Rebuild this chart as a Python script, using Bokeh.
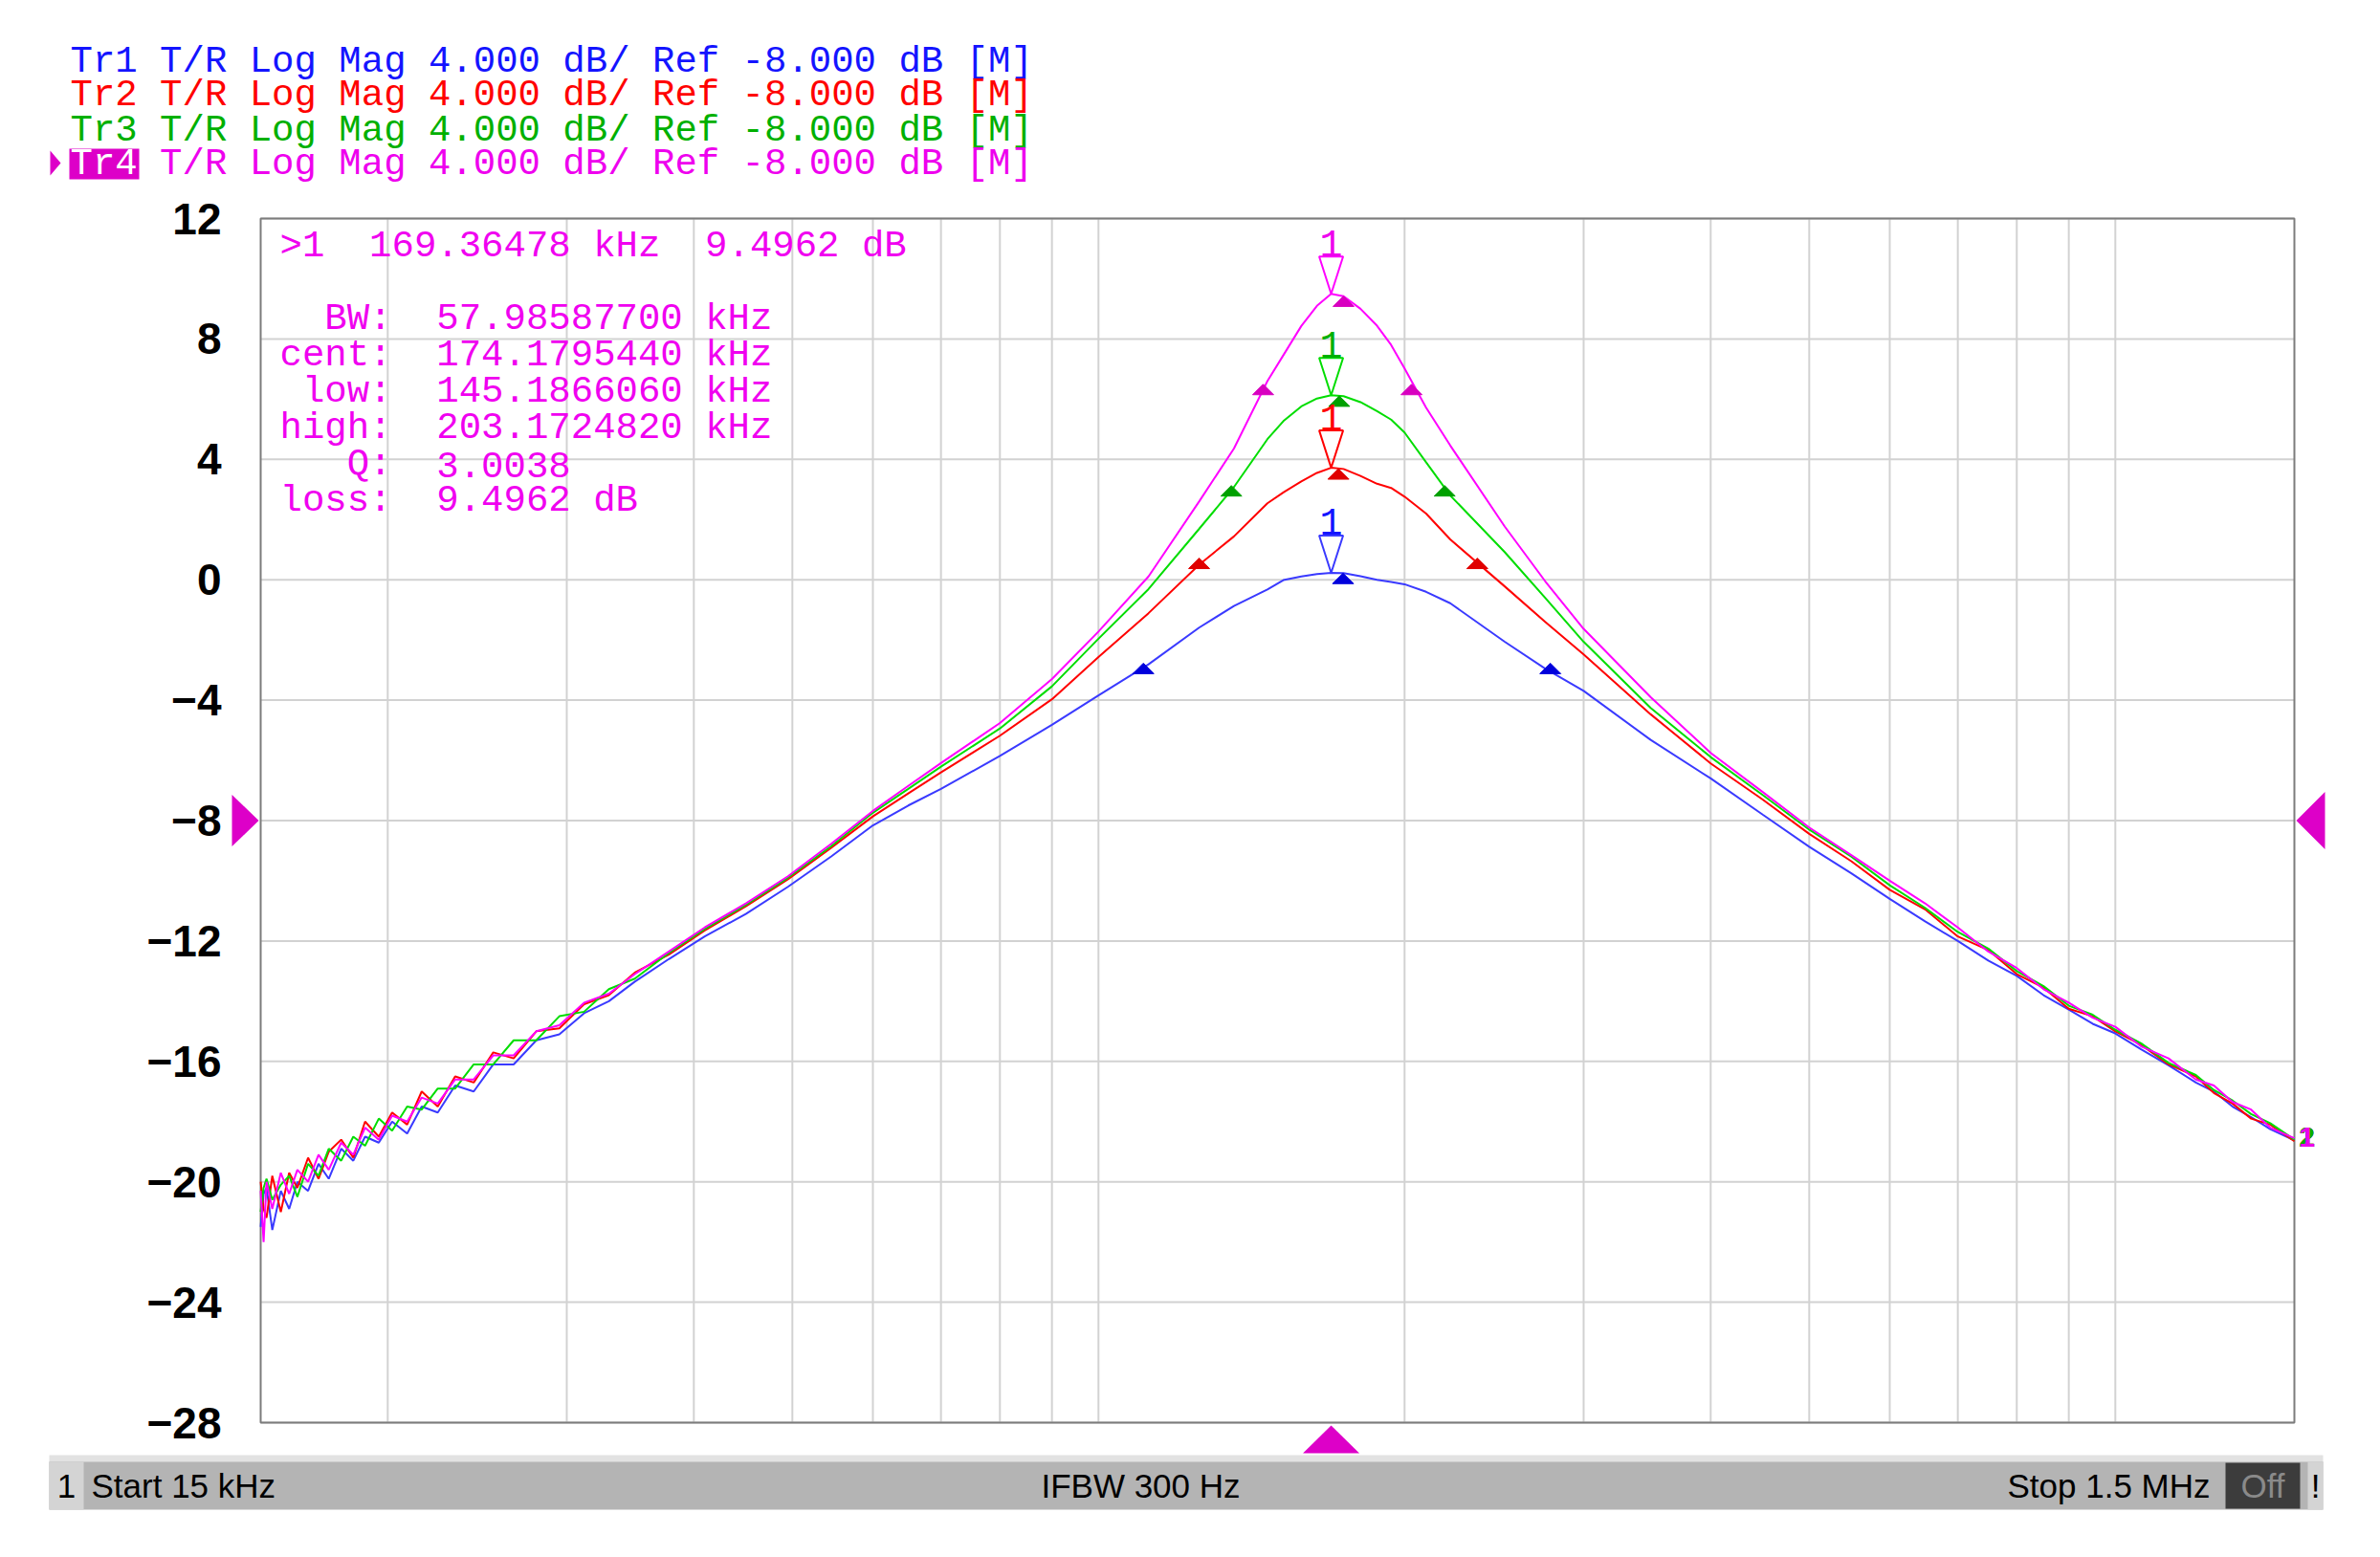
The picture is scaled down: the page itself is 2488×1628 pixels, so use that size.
from bokeh.plotting import figure
from bokeh.models import Range1d, Label, BoxAnnotation, PolyAnnotation, ColumnDataSource
from bokeh.core.properties import value
from bokeh.embed import file_html
from bokeh.resources import INLINE

# ---- data ----
freq_khz = [15.0, 15.1, 15.2, 15.4, 15.7, 16.0, 16.3, 16.7, 17.1, 17.5,
            18.0, 18.5, 19.0, 19.6, 20.2, 20.9, 21.6, 22.4, 23.3, 24.3,
            25.4, 26.6, 28.0, 29.5, 31.2, 33.0, 35.0, 37.8,
            41.0, 45.0, 49.5, 54.6, 60.0, 65.0, 70.0, 80.0, 90.0, 100.0,
            112.0, 125.6, 135.9, 146.6, 152.0, 158.3, 164.0, 169.36, 174.2, 181.0, 187.9, 194.0,
            200.0, 210.0, 221.8, 250.9, 275.0, 300.0, 349.2, 400.0, 450.0, 500.0, 550.0,
            600.0, 650.0, 700.0, 750.0, 800.0, 850.0, 900.0, 950.0, 1000.0, 1060.0,
            1128.0, 1200.0, 1250.0, 1304.0, 1360.0, 1420.0, 1500.0]

tr1_db = [-21.5, -20.4, -20.2, -21.6, -20.3, -20.9, -20.0, -20.3, -19.4, -19.9,
          -18.9, -19.3, -18.5, -18.7, -18.0, -18.4, -17.5, -17.7, -16.8, -17.0,
          -16.1, -16.1, -15.3, -15.1, -14.4, -14.0, -13.35, -12.6,
          -11.85, -11.1, -10.2, -9.19, -8.16, -7.5, -6.95, -5.85, -4.82, -3.84,
          -2.81, -1.59, -0.87, -0.32, -0.01, 0.11, 0.19, 0.23, 0.22, 0.12, 0.0, -0.07,
          -0.15, -0.4, -0.78, -2.06, -2.95, -3.69, -5.32, -6.60, -7.8, -8.87, -9.75,
          -10.6, -11.35, -12.0, -12.65, -13.16, -13.8, -14.28, -14.75, -15.07, -15.6,
          -16.13, -16.7, -17.0, -17.5, -17.85, -18.25, -18.62]

tr2_db = [-20.0, -20.9, -21.2, -19.8, -21.0, -19.7, -20.2, -19.2, -19.9, -19.0,
          -18.6, -19.2, -18.0, -18.5, -17.7, -18.1, -17.0, -17.5, -16.5, -16.7,
          -15.7, -15.9, -15.0, -14.9, -14.1, -13.8, -13.05, -12.45,
          -11.65, -10.85, -9.95, -8.9, -7.86, -7.1, -6.4, -5.18, -3.97, -2.57,
          -1.11, 0.5, 1.44, 2.54, 2.90, 3.27, 3.55, 3.72, 3.68, 3.45, 3.19, 3.05,
          2.76, 2.2, 1.34, -0.22, -1.4, -2.48, -4.47, -6.10, -7.3, -8.44, -9.35,
          -10.3, -10.95, -11.85, -12.3, -13.1, -13.55, -14.25, -14.5, -15.0, -15.45,
          -16.1, -16.5, -17.05, -17.4, -17.9, -18.1, -18.65]

tr3_db = [-21.0, -20.2, -19.9, -20.6, -20.1, -19.8, -20.5, -19.4, -19.8, -18.9,
          -19.3, -18.5, -18.8, -17.9, -18.3, -17.5, -17.6, -16.9, -16.9, -16.1,
          -16.1, -15.3, -15.3, -14.5, -14.35, -13.6, -13.25, -12.4,
          -11.6, -10.8, -9.9, -8.85, -7.74, -6.95, -6.21, -4.94, -3.54, -1.96,
          -0.31, 1.69, 3.08, 4.67, 5.27, 5.76, 6.02, 6.13, 6.10, 5.9, 5.60, 5.32,
          4.89, 3.9, 2.8, 0.92, -0.6, -2.06, -4.26, -5.89, -7.15, -8.30, -9.2,
          -10.15, -10.9, -11.7, -12.25, -13.0, -13.5, -14.15, -14.45, -14.95, -15.4,
          -16.05, -16.45, -16.95, -17.3, -17.75, -18.05, -18.6]

tr4_db = [-20.3, -22.0, -20.0, -20.9, -19.7, -20.4, -19.6, -20.0, -19.1, -19.6,
          -18.7, -19.1, -18.2, -18.6, -17.8, -18.0, -17.2, -17.4, -16.6, -16.6,
          -15.8, -15.8, -15.0, -14.8, -14.05, -13.75, -13.1, -12.35,
          -11.55, -10.75, -9.85, -8.77, -7.68, -6.85, -6.09, -4.76, -3.30, -1.72,
          0.11, 2.60, 4.36, 6.6, 7.46, 8.43, 9.10, 9.50, 9.42, 9.0, 8.44, 7.8,
          7.02, 5.72, 4.46, 1.77, -0.05, -1.63, -3.90, -5.75, -7.05, -8.23, -9.15,
          -10.0, -10.75, -11.55, -12.35, -12.9, -13.6, -14.05, -14.55, -14.85, -15.5,
          -15.9, -16.6, -16.8, -17.35, -17.6, -18.2, -18.55]

# marker 1 and bandwidth search results, per trace (Tr1..Tr4)
marker_khz = 169.36478
peak_db = [0.23, 3.72, 6.13, 9.4962]
bw_low_khz = [110.7, 125.6, 135.1, 145.1866060]
bw_cent_khz = [174.0, 172.2, 172.5, 174.1795440]
bw_high_khz = [278.2, 235.8, 219.0, 203.1724820]
cent_db = [0.22, 3.69, 6.11, 9.43]
bw_db = [-2.77, 0.72, 3.13, 6.4962]
ref_db = -8.0
start_khz, stop_khz = 15.0, 1500.0
db_min, db_max = -28, 12

y_ticks = [-28, -24, -20, -16, -12, -8, -4, 0, 4, 8, 12]
x_grid_khz = [20, 30, 40, 50, 60, 70, 80, 90, 100,
              200, 300, 400, 500, 600, 700, 800, 900, 1000]

header = "T/R Log Mag 4.000 dB/ Ref -8.000 dB [M]"
trace_names = ["Tr1", "Tr2", "Tr3", "Tr4"]
readout_keys = ["BW:", "cent:", "low:", "high:", "Q:", "loss:"]
readout_vals = ["57.98587700 kHz", "174.1795440 kHz", "145.1866060 kHz",
                "203.1724820 kHz", "3.0038", "9.4962 dB"]

line_colors = ["#3a3aff", "#ff0000", "#00dd00", "#ff00ff"]
text_colors = ["#1414ff", "#ff0000", "#00b000", "#ee00ee"]
tri_colors = ["#0000dc", "#e00000", "#00a000", "#d800c0"]
MAG = "#dd00c8"

# ---- geometry (canvas pixels) ----
W, H = 2472, 1612
BL, BT, BW, BH = 272, 228, 2126, 1259   # the graticule box
PX_DEC = BW / 2.0
PX_DB = BH / 40.0
MONO = "Liberation Mono"
SANS = "Liberation Sans"
CW = 23.4  # mono char width at 39px


def fx(f_hz, dx):
    return f_hz * 10 ** (dx / PX_DEC)


def fy(db, dy):
    return db + dy / PX_DB


f0 = start_khz * 1e3
p = figure(width=W, height=H, x_axis_type="log",
           x_range=Range1d(fx(f0, -BL), fx(f0, W - BL)),
           y_range=Range1d(fy(db_max, -(H - BT)), fy(db_max, BT)),
           x_axis_location=None, y_axis_location=None,
           output_backend="svg", toolbar_location=None, min_border=0)
p.outline_line_color = None
p.background_fill_color = "white"
p.border_fill_color = "white"
p.grid.visible = False

# graticule
xg = [k * 1e3 for k in x_grid_khz]
p.segment(x0=xg, y0=db_min, x1=xg, y1=db_max, line_color="#d2d2d2", line_width=2)
p.segment(x0=f0, y0=y_ticks, x1=stop_khz * 1e3, y1=y_ticks, line_color="#d2d2d2", line_width=2)
p.quad(left=f0, right=stop_khz * 1e3, bottom=db_min, top=db_max,
       fill_color=None, line_color="#7c7c7c", line_width=2)
tick_txt = [("\u2212" + str(-t)) if t < 0 else str(t) for t in y_ticks]
p.text(x=[fx(f0, -41)] * len(y_ticks), y=y_ticks, text=tick_txt, text_align="right",
       text_baseline="middle", text_font=value(SANS), text_font_size="46px",
       text_font_style="bold", text_color="black")

freq_hz = [k * 1e3 for k in freq_khz]
for ys, c in zip([tr1_db, tr2_db, tr3_db, tr4_db], line_colors):
    p.line(freq_hz, ys, line_color=c, line_width=2)

# filled triangles: bandwidth low / centre / high
xs_f, ys_f, cs_f = [], [], []
for i in range(4):
    for fk, db in [(bw_low_khz[i], bw_db[i]), (bw_cent_khz[i], cent_db[i]), (bw_high_khz[i], bw_db[i])]:
        f = fk * 1e3
        xs_f.append([fx(f, -11), f, fx(f, 11)])
        ys_f.append([fy(db, -11), db, fy(db, -11)])
        cs_f.append(tri_colors[i])
p.patches(xs_f, ys_f, fill_color=cs_f, line_color=cs_f, line_width=1)

# open marker triangles and their "1" labels
mf = marker_khz * 1e3
xs_o = [[fx(mf, -12.5), mf, fx(mf, 12.5)] for _ in peak_db]
ys_o = [[fy(db, 39), db, fy(db, 39)] for db in peak_db]
p.patches(xs_o, ys_o, fill_alpha=0, line_color=line_colors, line_width=2)
src1 = ColumnDataSource(dict(x=[mf] * 4, y=[fy(db, 53) for db in peak_db],
                             t=["1"] * 4, c=text_colors))
p.text(x="x", y="y", text="t", text_color="c", source=src1, text_align="center",
       text_baseline="alphabetic", text_font=value(MONO), text_font_size="40px")


def lab(x, y, text, color, size="39px", font=MONO, align="left", style="normal"):
    p.add_layout(Label(x=x, y=y, x_units="canvas", y_units="canvas", text=text,
                       text_color=color, text_font=font, text_font_size=size,
                       text_font_style=style, text_align=align, text_baseline="middle"))


def box(l, r, t, b, c):
    p.add_layout(BoxAnnotation(left=l, right=r, top=t, bottom=b, left_units="canvas",
                               right_units="canvas", top_units="canvas", bottom_units="canvas",
                               fill_color=c, fill_alpha=1, line_color=None))


# header lines
hx = 73
hy = [64, 99, 136, 171]
box(72, 145, 155, 187, MAG)
p.add_layout(PolyAnnotation(xs=[52, 63, 52], ys=[157, 170, 183], xs_units="canvas",
                            ys_units="canvas", fill_color=MAG, fill_alpha=1, line_color=None))
for i in range(4):
    lab(hx, hy[i], trace_names[i], "white" if i == 3 else text_colors[i])
    lab(hx + 4 * CW, hy[i], header, text_colors[i])

# marker readout
rx = 292
rc = "#f000f0"
lab(rx, 257, ">1", rc)
lab(rx + 4 * CW, 257, "169.36478 kHz", rc)
lab(rx + 19 * CW, 257, "9.4962 dB", rc)
for j, (k, v) in enumerate(zip(readout_keys, readout_vals)):
    yy = 333 + 38 * j
    lab(rx + 5 * CW, yy, k, rc, align="right")
    lab(rx + 7 * CW, yy, v, rc)

# reference level triangles and stimulus marker triangle
p.add_layout(PolyAnnotation(xs=[242, 270, 242], ys=[fy(ref_db, 27), ref_db, fy(ref_db, -27)],
                            xs_units="canvas", ys_units="data",
                            fill_color=MAG, fill_alpha=1, line_color=None))
p.add_layout(PolyAnnotation(xs=[2400, 2430, 2430], ys=[ref_db, fy(ref_db, 30), fy(ref_db, -30)],
                            xs_units="canvas", ys_units="data",
                            fill_color=MAG, fill_alpha=1, line_color=None))
p.add_layout(PolyAnnotation(xs=[fx(mf, -29.5), mf, fx(mf, 29.5)], ys=[1519, 1490, 1519],
                            xs_units="data", ys_units="canvas",
                            fill_color=MAG, fill_alpha=1, line_color=None))

# trace end labels on the right edge
for t, c in zip(["1", "2", "2", "1"], text_colors):
    lab(2411, 1188, t, c, size="30px", font=SANS, align="center", style="bold")

# status bar
box(51, 2428, 1521, 1529, "#e2e2e2")
box(51, 2428, 1528, 1578, "#b4b4b4")
box(51, 87, 1528, 1578, "#d4d4d4")
box(2326, 2404, 1529, 1577, "#3c3c3c")
box(2412, 2428, 1528, 1578, "#d4d4d4")
lab(69, 1553, "1", "black", size="35px", font=SANS, align="center")
lab(95, 1553, "Start 15 kHz", "black", size="35px", font=SANS)
lab(1192, 1553, "IFBW 300 Hz", "black", size="35px", font=SANS, align="center")
lab(2310, 1553, "Stop 1.5 MHz", "black", size="35px", font=SANS, align="right")
lab(2365, 1553, "Off", "#8a8a8a", size="35px", font=SANS, align="center")
lab(2420, 1553, "!", "black", size="35px", font=SANS, align="center")

open("out.html", "w").write(file_html(p, INLINE))
